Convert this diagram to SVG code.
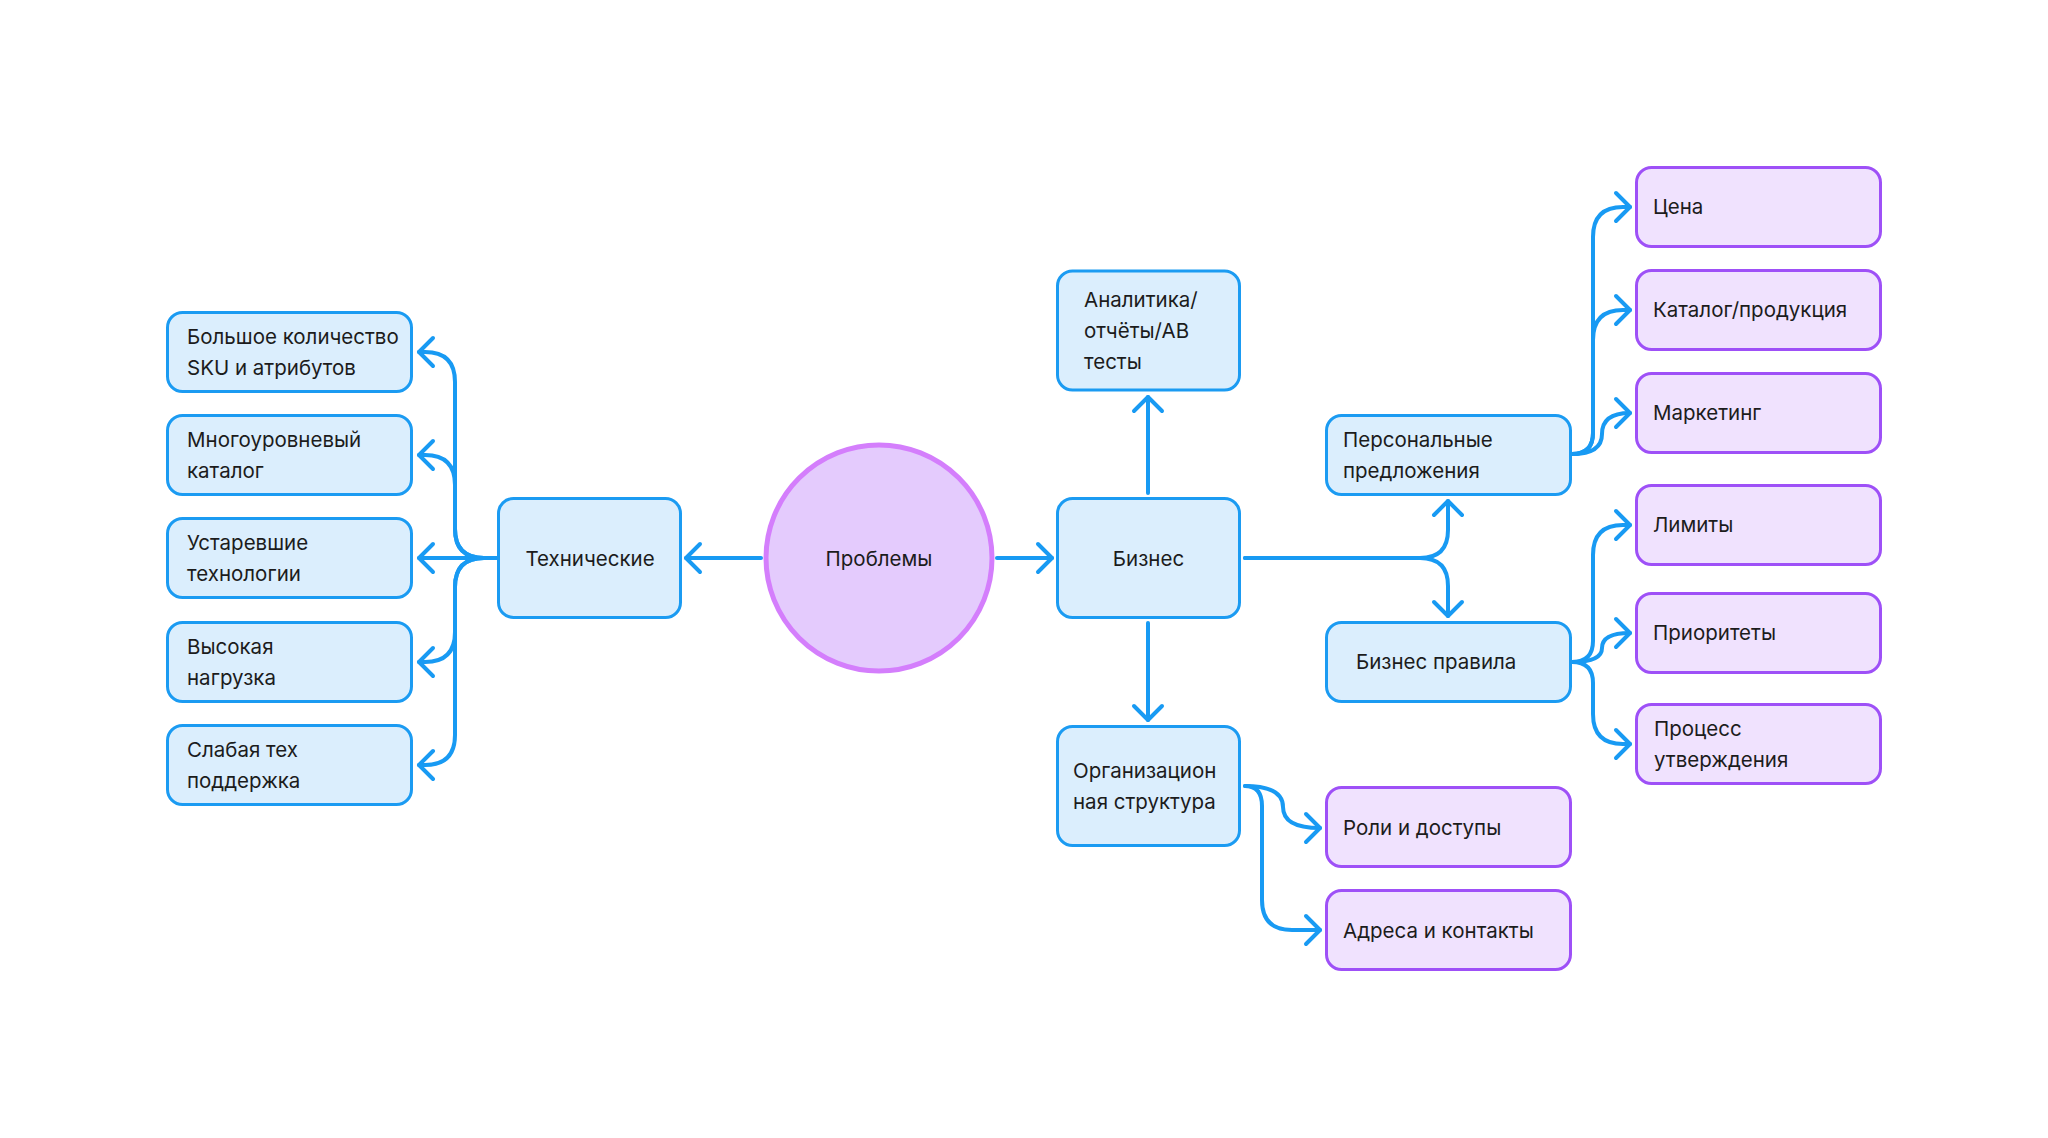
<svg xmlns="http://www.w3.org/2000/svg" width="2048" height="1138" viewBox="0 0 2048 1138">
<defs>
<style>
.bn{fill:#dbeefd;stroke:#1b9bf2;stroke-width:3}
.pn{fill:#f0e2fe;stroke:#9e50f7;stroke-width:3}
.t{font-family:Inter,"Noto Sans","Liberation Sans",sans-serif;font-size:20.5px;fill:#1c1c1c}
.c{text-anchor:middle}
.ln{fill:none;stroke:#189af3;stroke-width:4;stroke-linecap:round;stroke-linejoin:round;marker-end:url(#ah)}
</style>
<marker id="ah" markerUnits="userSpaceOnUse" markerWidth="40" markerHeight="40" viewBox="-20 -20 40 40" refX="0" refY="0" orient="auto" overflow="visible">
<path d="M-14,-14 L0,0 L-14,14" fill="none" stroke="#189af3" stroke-width="4" stroke-linecap="round" stroke-linejoin="round"/>
</marker>
</defs>
<rect width="2048" height="1138" fill="#ffffff"/>
<g id="connectors">
<path class="ln" d="M761 558 H686"/>
<path class="ln" d="M997 558 H1052"/>
<path class="ln" d="M497 558 H419"/>
<path class="ln" d="M497 558 H484 Q455 558 455 529 V382 Q455 352 425 352 H419"/>
<path class="ln" d="M497 558 H484 Q455 558 455 529 V485 Q455 455 425 455 H419"/>
<path class="ln" d="M497 558 H484 Q455 558 455 587 V632 Q455 662 425 662 H419"/>
<path class="ln" d="M497 558 H484 Q455 558 455 587 V735 Q455 765 425 765 H419"/>
<path class="ln" d="M1148 493 V397"/>
<path class="ln" d="M1148 623 V720"/>
<path class="ln" d="M1245 558 H1420 Q1448 558 1448 530 V501"/>
<path class="ln" d="M1245 558 H1420 Q1448 558 1448 586 V616"/>
<path class="ln" d="M1572 454 Q1593 454 1593 433 V237 Q1593 207 1623 207 H1630"/>
<path class="ln" d="M1572 454 Q1593 454 1593 433 V340 Q1593 310 1623 310 H1630"/>
<path class="ln" d="M1572 454 Q1602 454 1602 434 Q1602 413 1630 413"/>
<path class="ln" d="M1572 662 Q1593 662 1593 641 V555 Q1593 525 1623 525 H1630"/>
<path class="ln" d="M1572 662 Q1602 662 1602 648 Q1602 633 1630 633"/>
<path class="ln" d="M1572 662 Q1593 662 1593 683 V714 Q1593 744 1623 744 H1630"/>
<path class="ln" d="M1245 786 Q1283 786 1283 807 Q1283 828 1320 828"/>
<path class="ln" d="M1245 786 Q1262 786 1262 806 V900 Q1262 930 1292 930 H1320"/>
</g>
<g id="n-problems">
<circle cx="879" cy="558" r="113" fill="#e4cbfd" stroke="#d47efc" stroke-width="5"/>
<text class="t c" x="879" y="566">Проблемы</text>
</g>
<g id="n-tech">
<rect class="bn" x="498.5" y="498.5" width="182" height="119" rx="15"/>
<text class="t c" x="590" y="566">Технические</text>
</g>
<g id="n-sku">
<rect class="bn" x="167.5" y="312.5" width="244" height="79" rx="15"/>
<text class="t" x="187" y="344">Большое количество</text>
<text class="t" x="187" y="375">SKU и атрибутов</text>
</g>
<g id="n-catalog">
<rect class="bn" x="167.5" y="415.5" width="244" height="79" rx="15"/>
<text class="t" x="187" y="447">Многоуровневый</text>
<text class="t" x="187" y="478">каталог</text>
</g>
<g id="n-legacy">
<rect class="bn" x="167.5" y="518.5" width="244" height="79" rx="15"/>
<text class="t" x="187" y="550">Устаревшие</text>
<text class="t" x="187" y="581">технологии</text>
</g>
<g id="n-load">
<rect class="bn" x="167.5" y="622.5" width="244" height="79" rx="15"/>
<text class="t" x="187" y="654">Высокая</text>
<text class="t" x="187" y="685">нагрузка</text>
</g>
<g id="n-support">
<rect class="bn" x="167.5" y="725.5" width="244" height="79" rx="15"/>
<text class="t" x="187" y="757">Слабая тех</text>
<text class="t" x="187" y="788">поддержка</text>
</g>
<g id="n-business">
<rect class="bn" x="1057.5" y="498.5" width="182" height="119" rx="15"/>
<text class="t c" x="1148.5" y="566">Бизнес</text>
</g>
<g id="n-analytics">
<rect class="bn" x="1057.5" y="271" width="182" height="119" rx="15"/>
<text class="t" x="1084" y="307">Аналитика/</text>
<text class="t" x="1084" y="338">отчёты/АВ</text>
<text class="t" x="1084" y="369">тесты</text>
</g>
<g id="n-org">
<rect class="bn" x="1057.5" y="726.5" width="182" height="119" rx="15"/>
<text class="t" x="1073" y="778">Организацион</text>
<text class="t" x="1073" y="809">ная структура</text>
</g>
<g id="n-personal">
<rect class="bn" x="1326.5" y="415.5" width="244" height="79" rx="15"/>
<text class="t" x="1343" y="447">Персональные</text>
<text class="t" x="1343" y="478">предложения</text>
</g>
<g id="n-rules">
<rect class="bn" x="1326.5" y="622.5" width="244" height="79" rx="15"/>
<text class="t" x="1356" y="669">Бизнес правила</text>
</g>
<g id="n-price">
<rect class="pn" x="1636.5" y="167.5" width="244" height="79" rx="15"/>
<text class="t" x="1653" y="214">Цена</text>
</g>
<g id="n-products">
<rect class="pn" x="1636.5" y="270.5" width="244" height="79" rx="15"/>
<text class="t" x="1653" y="317">Каталог/продукция</text>
</g>
<g id="n-marketing">
<rect class="pn" x="1636.5" y="373.5" width="244" height="79" rx="15"/>
<text class="t" x="1653" y="420">Маркетинг</text>
</g>
<g id="n-limits">
<rect class="pn" x="1636.5" y="485.5" width="244" height="79" rx="15"/>
<text class="t" x="1653" y="532">Лимиты</text>
</g>
<g id="n-priorities">
<rect class="pn" x="1636.5" y="593.5" width="244" height="79" rx="15"/>
<text class="t" x="1653" y="640">Приоритеты</text>
</g>
<g id="n-approval">
<rect class="pn" x="1636.5" y="704.5" width="244" height="79" rx="15"/>
<text class="t" x="1654" y="736">Процесс</text>
<text class="t" x="1654" y="767">утверждения</text>
</g>
<g id="n-roles">
<rect class="pn" x="1326.5" y="787.5" width="244" height="79" rx="15"/>
<text class="t" x="1343" y="835">Роли и доступы</text>
</g>
<g id="n-addresses">
<rect class="pn" x="1326.5" y="890.5" width="244" height="79" rx="15"/>
<text class="t" x="1343" y="938">Адреса и контакты</text>
</g>
</svg>
